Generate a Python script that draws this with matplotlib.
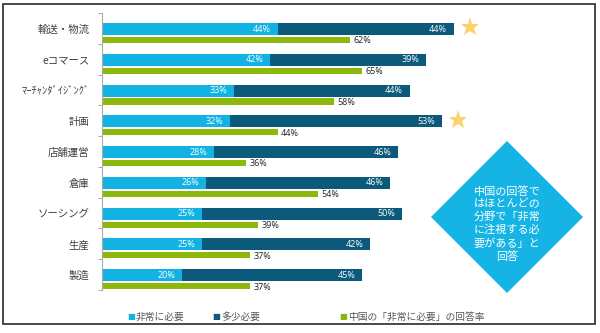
import matplotlib
matplotlib.use('Agg')
import matplotlib.pyplot as plt
from matplotlib.patches import Polygon, Rectangle

plt.rcParams['font.family'] = ['Noto Sans CJK JP', 'DejaVu Sans']

# データ
categories = ['輸送・物流', 'eコマース', 'ﾏｰﾁｬﾝﾀﾞｲｼﾞﾝｸﾞ', '計画', '店舗運営',
              '倉庫', 'ソーシング', '生産', '製造']
very = [44, 42, 33, 32, 28, 26, 25, 25, 20]
some = [44, 39, 44, 53, 46, 46, 50, 42, 45]
china = [62, 65, 58, 44, 36, 54, 39, 37, 37]
star_rows = [0, 3]
legend_labels = ['非常に必要', '多少必要', '中国の「非常に必要」の回答率']
note = '中国の回答で\nはほとんどの\n分野で「非常\nに注視する必\n要がある」と\n回答'

c_light = '#12b2e3'
c_dark = '#0b5a7c'
c_green = '#8cb80c'
c_star = '#fdd26b'

fig = plt.figure(figsize=(6, 3.33), dpi=100)

# 外枠
fig.patches.append(Rectangle((3 / 600, 1 - 324 / 333), 592 / 600, 320 / 333,
                             transform=fig.transFigure, fill=False,
                             edgecolor='#3a3a3a', linewidth=1.3))

ax = fig.add_axes([102 / 600, 1 - 290 / 333, 480 / 600, 277 / 333])
n = len(categories)
ax.set_xlim(0, 120)
ax.set_ylim(n, 0)

y_main = [i + 0.52 for i in range(n)]
y_green = [i + 0.875 for i in range(n)]

ax.barh(y_main, very, height=0.39, color=c_light)
ax.barh(y_main, some, left=very, height=0.39, color=c_dark)
ax.barh(y_green, china, height=0.2, color=c_green)

for i in range(n):
    ax.text(very[i] - 1.7, y_main[i], f'{very[i]}%', color='white',
            fontsize=6.5, ha='right', va='center', family='Open Sans')
    ax.text(very[i] + some[i] - 1.7, y_main[i], f'{some[i]}%', color='white',
            fontsize=6.5, ha='right', va='center', family='Open Sans')
    ax.text(china[i] + 0.8, y_green[i] + 0.03, f'{china[i]}%', color='#222222',
            fontsize=6.5, ha='left', va='center', family='Open Sans')

for r in star_rows:
    ax.plot(very[r] + some[r] + 4, y_main[r] - 0.05, marker='*', ms=14,
            color=c_star, markeredgewidth=0)

ax.set_yticks(y_main)
ax.set_yticklabels(categories, fontsize=7.5, color='#404040')
ax.set_yticks(range(n + 1), minor=True)
ax.tick_params(axis='y', which='major', length=0, pad=9)
ax.tick_params(axis='y', which='minor', length=3, color='#999999', direction='out')
ax.set_xticks([])
for s in ['top', 'right', 'bottom']:
    ax.spines[s].set_visible(False)
ax.spines['left'].set_color('#aaaaaa')

# ひし形の注記
cx, cy, hw = 507, 217, 76
pts = [(cx, cy - hw), (cx + hw, cy), (cx, cy + hw), (cx - hw, cy)]
pts = [(x / 600, 1 - y / 333) for x, y in pts]
fig.patches.append(Polygon(pts, closed=True, transform=fig.transFigure,
                           facecolor='#16b4e5', edgecolor='none'))
fig.text(cx / 600, 1 - (cy + 7) / 333, note, color='white', fontsize=8,
         ha='center', va='center', linespacing=1.3)

# 凡例
leg_y = 1 - 317 / 333
leg_items = [(127, c_light), (212, c_dark), (339, c_green)]
for (x, c), lab in zip(leg_items, legend_labels):
    fig.text(x / 600, leg_y, '■', color=c, fontsize=6, va='center', ha='left',
             family='DejaVu Sans')
    fig.text((x + 9) / 600, leg_y, lab, color='#555555', fontsize=7,
             va='center', ha='left')

fig.savefig('out.png', dpi=100)
